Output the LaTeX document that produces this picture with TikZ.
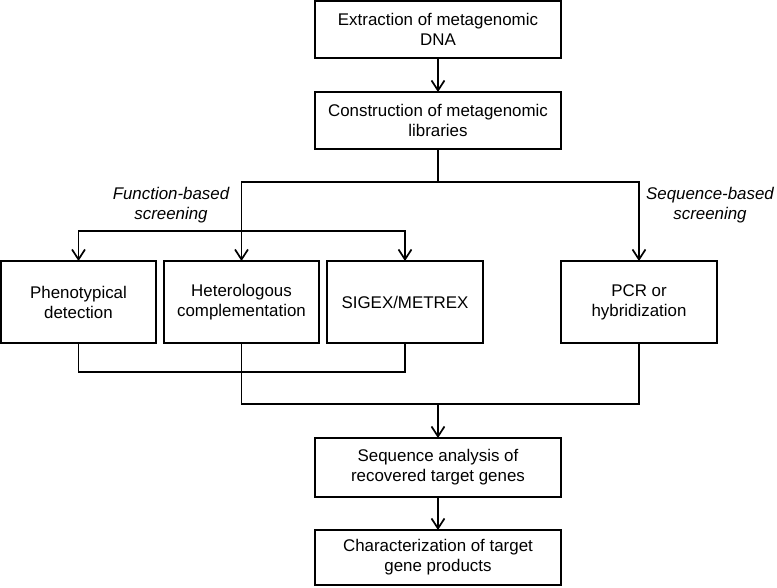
\documentclass[tikz,border=0pt]{standalone}
\usepackage{fontspec}
\setmainfont{Liberation Sans}
\usetikzlibrary{arrows.meta}
\begin{document}
\begin{tikzpicture}[x=1pt,y=-1pt,
  box/.style={draw,line width=2pt,inner sep=0pt,outer sep=0pt,align=center,
    font=\fontsize{16.9}{20}\selectfont},
  lbl/.style={align=center,font=\fontsize{16.9}{20}\selectfont\itshape},
  conn/.style={line width=1.7pt},
  arr/.style={conn,-{Straight Barb[length=10pt,width=13pt,line width=1.7pt]}}]
\useasboundingbox (0,0) rectangle (777,587);
\node[box,minimum width=246,minimum height=57] (b1) at (438,29.5) {Extraction of metagenomic\\DNA};
\node[box,minimum width=246,minimum height=57] (b2) at (438,120.5) {Construction of metagenomic\\libraries};
\node[box,minimum width=155,minimum height=82] (phen) at (78.5,302) {Phenotypical\\detection};
\node[box,minimum width=155,minimum height=82] (het) at (241.5,302) {Heterologous\\complementation};
\node[box,minimum width=156,minimum height=82] (sig) at (405,302) {SIGEX/METREX};
\node[box,minimum width=156,minimum height=82] (pcr) at (639,302) {PCR or\\hybridization};
\node[box,minimum width=246,minimum height=59] (b3) at (438,467.5) {Sequence analysis of\\recovered target genes};
\node[box,minimum width=246,minimum height=55] (b4) at (438,557.5) {Characterization of target\\gene products};
\node[lbl] (fb) at (171,205) {Function-based\\screening};
\node[lbl] (sb) at (710,205) {Sequence-based\\screening};
% top
\draw[arr] (b1.south) -- (b2.north);
\draw[conn] (b2.south) -- ++(0,33) coordinate (j1);
\draw[arr] (j1) -| (het.north);
\draw[arr] (j1) -| (pcr.north);
\path (het.north) ++(0,-30) coordinate (j2);
\draw[arr] (j2) -| (phen.north);
\draw[arr] (j2) -| (sig.north);
% bottom
\draw[conn] (phen.south) -- ++(0,29) coordinate (k1) -| (sig.south);
\draw[conn] (het.south) -- ++(0,61) coordinate (k2) -| (pcr.south);
\coordinate (k3) at (k2 -| b3.north);
\draw[arr] (k3) -- (b3.north);
\draw[arr] (b3.south) -- (b4.north);
\end{tikzpicture}
\end{document}
